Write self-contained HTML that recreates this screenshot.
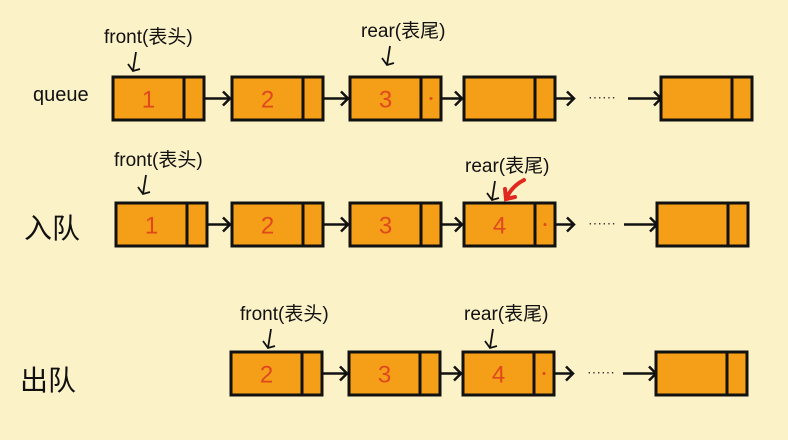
<!DOCTYPE html>
<html><head><meta charset="utf-8"><style>
html,body{margin:0;padding:0;background:#fcf2c8;}
svg{display:block}
text{font-family:"Liberation Sans","Noto Sans CJK SC",sans-serif;}
</style></head><body>
<svg id="s" width="788" height="440" viewBox="0 0 788 440">
<rect width="788" height="440" fill="#fcf2c8"/>
<text x="33" y="101" font-size="20" fill="#111">queue</text>
<text x="24" y="238" font-size="28" fill="#111">入队</text>
<text x="20" y="390" font-size="28" fill="#111">出队</text>
</svg>
<script>
const rowsY=[77,203,352];
const row1X=[113,232,350,464,661];
const row1V=['1','2','3','',''];
const row2X=[116,232,350,464,657];
const row2V=['1','2','3','4',''];
const row3X=[231,349,463,656];
const row3V=['2','3','4',''];
const dotBox=[2,3,2];
const pointers=[
 {label:'front(表头)',x:104,y:43,ax:133},
 {label:'rear(表尾)',x:361,y:37,ax:387},
 {label:'front(表头)',x:114,y:166,ax:143},
 {label:'rear(表尾)',x:465,y:172,ax:492},
 {label:'front(表头)',x:240,y:320,ax:268},
 {label:'rear(表尾)',x:464,y:320,ax:490}
];
const NS='http://www.w3.org/2000/svg';
const svg=document.getElementById('s');
function mk(t,a){const e=document.createElementNS(NS,t);for(const k in a)e.setAttribute(k,a[k]);svg.appendChild(e);return e;}
const W=91,H=43,D=20;
function drawRow(xs,vs,y,ri){
 xs.forEach((x,i)=>{
  const r=mk('rect',{x:x,y:y,width:W,height:H,fill:'#f59e17',stroke:'#111','stroke-width':3});
  
  
  mk('line',{x1:x+W-D,y1:y,x2:x+W-D,y2:y+H,stroke:'#111','stroke-width':3});
  if(vs[i]){const t=mk('text',{x:x+(W-D)/2,y:y+H/2+9,'font-size':24,fill:'#e0481e','text-anchor':'middle'});t.textContent=vs[i];
   
   }
  if(i===dotBox[ri]) mk('circle',{cx:x+W-D/2,cy:y+H/2,r:1.5,fill:'#e0481e'});
  if(i<xs.length-1){
   const x1=x+W, x2=xs[i+1];
   const cy=y+H/2;
   if(i===xs.length-2){
    mk('line',{x1:x1,y1:cy,x2:x1+18,y2:cy,stroke:'#111','stroke-width':2.5});
    mk('path',{d:`M${x1+12} ${cy-7}L${x1+19} ${cy}L${x1+12} ${cy+7}`,fill:'none',stroke:'#111','stroke-width':2.5});
    const d=mk('text',{x:x1+33,y:cy+3,'font-size':14,fill:'#333'});d.textContent='······';
    mk('line',{x1:x2-33,y1:cy,x2:x2,y2:cy,stroke:'#111','stroke-width':2.5});
    mk('path',{d:`M${x2-7} ${cy-7}L${x2} ${cy}L${x2-7} ${cy+7}`,fill:'none',stroke:'#111','stroke-width':2.5});
   } else {
    mk('line',{x1:x1,y1:cy,x2:x2-2,y2:cy,stroke:'#111','stroke-width':2.5});
    mk('path',{d:`M${x2-9} ${cy-7}L${x2-2} ${cy}L${x2-9} ${cy+7}`,fill:'none',stroke:'#111','stroke-width':2.5});
   }
  }
 });
}
drawRow(row1X,row1V,rowsY[0],0);
drawRow(row2X,row2V,rowsY[1],1);
drawRow(row3X,row3V,rowsY[2],2);
pointers.forEach(p=>{
 const t=mk('text',{x:p.x,y:p.y,'font-size':19,fill:'#111'});t.textContent=p.label;
 
 
 const y0=p.y+9,y1=p.y+28;
 mk('path',{d:`M${p.ax+3} ${y0}L${p.ax} ${y1}M${p.ax-5} ${y1-7}L${p.ax} ${y1}L${p.ax+7} ${y1-2}`,fill:'none',stroke:'#111','stroke-width':1.8});
});
const red=mk('path',{d:'M524 180C516 184 510 190 506 199M505 189L506 199L515 197',fill:'none',stroke:'#e0281e','stroke-width':4,'stroke-linecap':'round'});


</script>
</body></html>
